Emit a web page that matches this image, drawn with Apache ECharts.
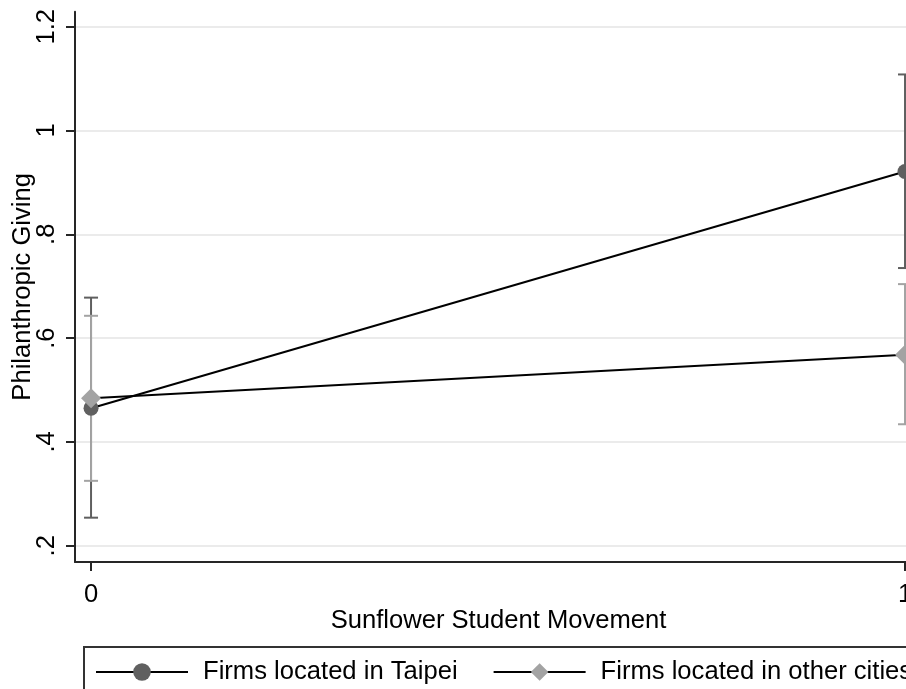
<!DOCTYPE html>
<html>
<head>
<meta charset="utf-8">
<title>Philanthropic Giving and the Sunflower Student Movement</title>
<script src="https://cdn.jsdelivr.net/npm/echarts@6/dist/echarts.min.js"></script>
<style>
  html, body { margin: 0; padding: 0; background: #ffffff; }
  #chart { width: 906px; height: 689px; }
</style>
</head>
<body>
<div id="chart"></div>
<script>
// Movement indicator (0 = before, 1 = after)
const xValues = [0, 1];

// Firms located in Taipei: predicted mean with 95% CI
const taipeiMean = [0.465, 0.921];
const taipeiLow  = [0.254, 0.735];
const taipeiHigh = [0.678, 1.108];

// Firms located in other cities: predicted mean with 95% CI
const otherMean = [0.484, 0.568];
const otherLow  = [0.325, 0.434];
const otherHigh = [0.643, 0.704];

// Axis ticks
const yTicks = [0.2, 0.4, 0.6, 0.8, 1, 1.2];
const xTicks = [0, 1];

const seriesNames = ['Firms located in Taipei', 'Firms located in other cities'];

const FONT = '"Liberation Sans", Arial, Helvetica, sans-serif';
const FONT_SIZE = 25.6;
const AXIS_COLOR = '#262626';

function pairs(xs, ys) {
  return xs.map((x, i) => [x, ys[i]]);
}

function ciRows(xs, lo, hi) {
  return xs.map((x, i) => [x, lo[i], hi[i]]);
}

// Capped range bar drawn from axis coordinates
function capRenderer(color) {
  return function (params, api) {
    const x = api.value(0);
    const top = api.coord([x, api.value(2)]);
    const bot = api.coord([x, api.value(1)]);
    const half = 7;
    const style = { stroke: color, lineWidth: 2 };
    return {
      type: 'group',
      children: [
        { type: 'line', shape: { x1: top[0], y1: top[1], x2: bot[0], y2: bot[1] }, style: style },
        { type: 'line', shape: { x1: top[0] - half, y1: top[1], x2: top[0] + half, y2: top[1] }, style: style },
        { type: 'line', shape: { x1: bot[0] - half, y1: bot[1], x2: bot[0] + half, y2: bot[1] }, style: style }
      ]
    };
  };
}

function stripZero(v) {
  const s = String(Math.round(v * 10) / 10);
  return s.startsWith('0.') ? s.slice(1) : s;
}

const chart = echarts.init(document.getElementById('chart'), null, { renderer: 'canvas' });

chart.setOption({
  backgroundColor: '#ffffff',
  animation: false,
  textStyle: { fontFamily: FONT },
  grid: { left: 75, right: 0, top: 11.7, bottom: 127, outerBoundsMode: 'none', containLabel: false },
  xAxis: {
    type: 'value',
    min: -0.0197,
    max: 1.0012,
    name: 'Sunflower Student Movement',
    nameLocation: 'middle',
    nameGap: 46,
    nameMoveOverlap: false,
    nameTextStyle: { fontFamily: FONT, fontSize: FONT_SIZE, color: '#000', padding: [0, 0, 0, 16] },
    axisLine: { show: true, onZero: false, lineStyle: { color: AXIS_COLOR, width: 2 } },
    axisTick: { show: true, length: 9, customValues: xTicks, lineStyle: { color: AXIS_COLOR, width: 2 } },
    axisLabel: {
      customValues: xTicks,
      margin: 20,
      hideOverlap: false,
      fontFamily: FONT, fontSize: FONT_SIZE, color: '#000',
      formatter: v => String(v)
    },
    splitLine: { show: false }
  },
  yAxis: {
    type: 'value',
    min: 0.1686,
    max: 1.2289,
    name: 'Philanthropic Giving',
    nameLocation: 'middle',
    nameRotate: 90,
    nameGap: 39,
    nameMoveOverlap: false,
    nameTextStyle: { fontFamily: FONT, fontSize: FONT_SIZE, color: '#000' },
    axisLine: { show: true, onZero: false, lineStyle: { color: AXIS_COLOR, width: 2 } },
    axisTick: { show: true, length: 9, customValues: yTicks, lineStyle: { color: AXIS_COLOR, width: 2 } },
    axisLabel: {
      customValues: yTicks,
      rotate: 90,
      margin: 15,
      fontFamily: FONT, fontSize: FONT_SIZE, color: '#000',
      formatter: v => stripZero(v)
    },
    splitLine: { show: true, lineStyle: { color: '#ebebeb', width: 2 } }
  },
  legend: {
    left: 84,
    top: 647,
    width: 1400,
    orient: 'horizontal',
    padding: [12, 14, 14, 11],
    itemWidth: 92,
    itemHeight: 22,
    itemGap: 35,
    borderColor: '#333333',
    borderWidth: 2,
    selectedMode: false,
    textStyle: { fontFamily: FONT, fontSize: FONT_SIZE, color: '#000', padding: [0, 0, 0, 10] },
    data: seriesNames
  },
  series: [
    {
      name: 'ciTaipei',
      type: 'custom',
      renderItem: capRenderer('#5f5f5f'),
      data: ciRows(xValues, taipeiLow, taipeiHigh),
      encode: { x: 0, y: [1, 2] },
      z: 1,
      silent: true
    },
    {
      name: 'ciOther',
      type: 'custom',
      renderItem: capRenderer('#a3a3a3'),
      data: ciRows(xValues, otherLow, otherHigh),
      encode: { x: 0, y: [1, 2] },
      z: 2,
      silent: true
    },
    {
      name: seriesNames[0],
      type: 'line',
      data: pairs(xValues, taipeiMean),
      symbol: 'circle',
      symbolSize: 15,
      itemStyle: { color: '#606060' },
      lineStyle: { color: '#000000', width: 2 },
      z: 3
    },
    {
      name: seriesNames[1],
      type: 'line',
      data: pairs(xValues, otherMean),
      symbol: 'diamond',
      symbolSize: 20,
      itemStyle: { color: '#a3a3a3' },
      lineStyle: { color: '#000000', width: 2 },
      z: 4
    }
  ]
});
</script>
</body>
</html>
